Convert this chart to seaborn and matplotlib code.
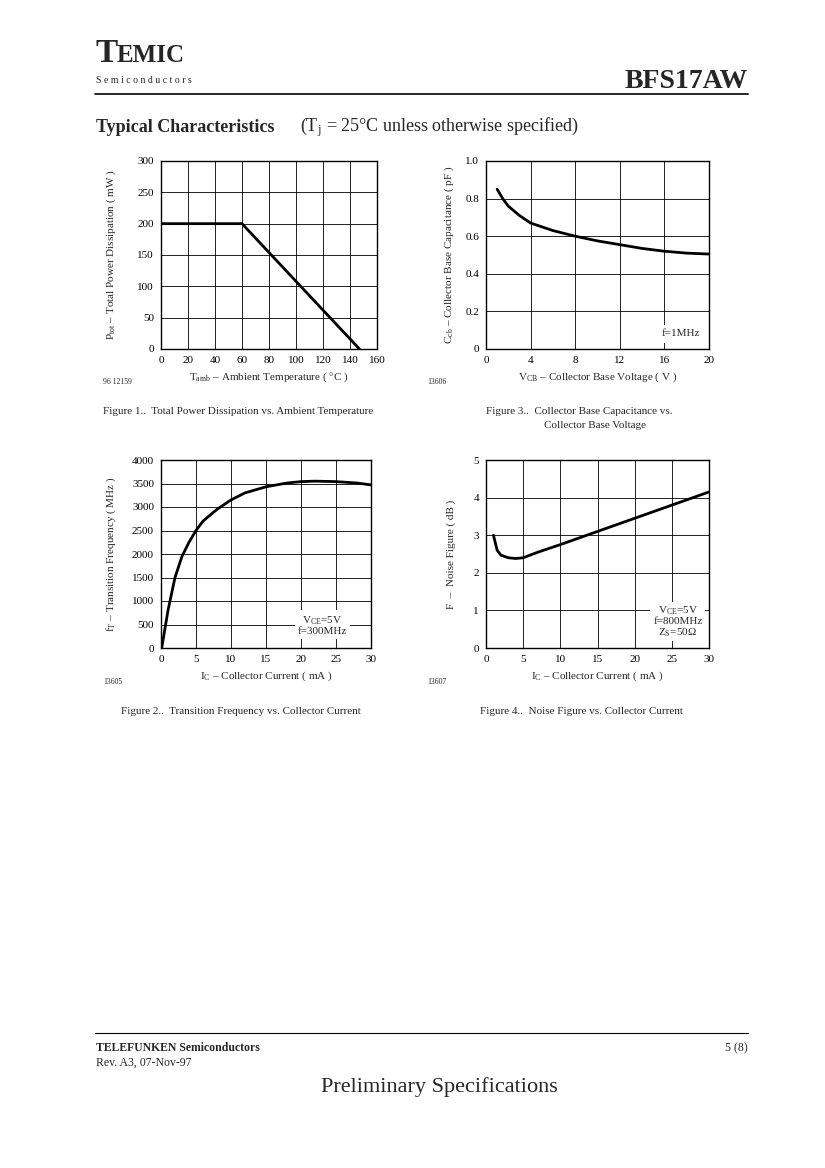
import matplotlib
matplotlib.use("Agg")
import matplotlib.pyplot as plt
import seaborn as sns
import numpy as np

sns.set_theme(style="white")
plt.rcParams['font.family'] = ['Liberation Serif', 'DejaVu Serif']
plt.rcParams['mathtext.fontset'] = 'stix'

# Figure 1
t_amb = [0, 60, 147]
p_tot = [200, 200, 0]
# Figure 3
v_cb = [1, 1.5, 2, 3, 4, 6, 8, 10, 12, 14, 16, 18, 20]
c_cb = [0.85, 0.80, 0.76, 0.71, 0.67, 0.63, 0.60, 0.575, 0.555, 0.535, 0.52, 0.51, 0.505]
# Figure 2
ic_ft = [0.1, 1, 2, 3, 4, 5, 6, 8, 10, 12, 15, 18, 20, 22, 25, 28, 30]
f_t = [0, 800, 1500, 1950, 2250, 2500, 2700, 2950, 3150, 3300, 3430, 3510, 3540, 3550, 3540, 3510, 3470]
# Figure 4
ic_nf = [1, 1.5, 2, 3, 4, 5, 7, 10, 15, 20, 25, 30]
nf = [3.0, 2.6, 2.47, 2.4, 2.38, 2.4, 2.55, 2.75, 3.1, 3.45, 3.8, 4.15]

W, H = 825, 1168
fig = plt.figure(figsize=(8.25, 11.68), dpi=100)

def ax_px(x0, y0, x1, y1):
    return fig.add_axes([x0 / W, 1 - y1 / H, (x1 - x0) / W, (y1 - y0) / H])

def T(x, y, s, **kw):
    fig.text(x / W, 1 - y / H, s, **kw)

def style(ax, xlim, ylim, xt, yt):
    ax.set_xlim(*xlim); ax.set_ylim(*ylim)
    ax.set_xticks(xt); ax.set_yticks(yt)
    ax.grid(True, color='black', lw=0.6)
    for s in ax.spines.values():
        s.set_color('black'); s.set_linewidth(1.0)
    ax.tick_params(axis='both', labelsize=8, length=0, pad=5, colors='black')
    ax.set_axisbelow(True)

# Header
T(95, 62, "T", fontsize=24, fontweight='bold', va='baseline')
T(117, 62, "EMIC", fontsize=18, fontweight='bold', va='baseline')
T(96, 83, "S e m i c o n d u c t o r s", fontsize=7, va='baseline')
T(748, 88, "BFS17AW", fontsize=20, fontweight='bold', ha='right', va='baseline')
fig.add_artist(plt.Line2D([95 / W, 748 / W], [1 - 94 / H] * 2, color='black', lw=1.2))
T(96, 132, "Typical Characteristics", fontsize=13, fontweight='bold', va='baseline')
T(300, 132, r"(T$_\mathregular{j}$ = 25°C unless otherwise specified)", fontsize=13, va='baseline')

# Figure 1
ax = ax_px(161, 161, 377, 349)
sns.lineplot(x=t_amb, y=p_tot, ax=ax, color='black', lw=2)
style(ax, (0, 160), (0, 300), range(0, 161, 20), range(0, 301, 50))
ax.set_ylabel(r"P$_\mathregular{tot}$ – Total Power Dissipation ( mW )", fontsize=8)
ax.yaxis.set_label_coords(-0.2, 0.5)
ax.set_xlabel(r"T$_\mathregular{amb}$ – Ambient Temperature ( °C )", fontsize=8, labelpad=4)
T(103, 384, "96 12159", fontsize=5.5)
T(103, 414, "Figure 1..  Total Power Dissipation vs. Ambient Temperature", fontsize=8)

# Figure 3
ax = ax_px(486, 161, 709, 349)
sns.lineplot(x=v_cb, y=c_cb, ax=ax, color='black', lw=2)
style(ax, (0, 20), (0, 1.0), range(0, 21, 4), [0, 0.2, 0.4, 0.6, 0.8, 1.0])
ax.set_yticklabels(["0", "0.2", "0.4", "0.6", "0.8", "1.0"])
ax.text(0.96, 0.08, "f=1MHz", transform=ax.transAxes, ha='right', va='center', fontsize=8,
        bbox=dict(facecolor='white', edgecolor='none', pad=3))
ax.set_ylabel(r"C$_\mathregular{cb}$ – Collector Base Capacitance ( pF )", fontsize=8)
ax.yaxis.set_label_coords(-0.135, 0.5)
ax.set_xlabel(r"V$_\mathregular{CB}$ – Collector Base Voltage ( V )", fontsize=8, labelpad=4)
T(427, 384, "13606", fontsize=5.5)
T(486, 414, "Figure 3..  Collector Base Capacitance vs.", fontsize=8)
T(544, 428, "Collector Base Voltage", fontsize=8)

# Figure 2
ax = ax_px(161, 460, 371, 648)
sns.lineplot(x=ic_ft, y=f_t, ax=ax, color='black', lw=2)
style(ax, (0, 30), (0, 4000), range(0, 31, 5), range(0, 4001, 500))
ax.text(0.77, 0.12, "V$_\\mathregular{CE}$=5V\nf=300MHz", transform=ax.transAxes, ha='center',
        va='center', fontsize=8, linespacing=1.0, bbox=dict(facecolor='white', edgecolor='none', pad=2))
ax.set_ylabel(r"f$_\mathregular{T}$ – Transition Frequency ( MHz )", fontsize=8)
ax.yaxis.set_label_coords(-0.205, 0.5)
ax.set_xlabel(r"I$_\mathregular{C}$ – Collector Current ( mA )", fontsize=8, labelpad=4)
T(103, 684, "13605", fontsize=5.5)
T(121, 714, "Figure 2..  Transition Frequency vs. Collector Current", fontsize=8)

# Figure 4
ax = ax_px(486, 460, 709, 648)
sns.lineplot(x=ic_nf, y=nf, ax=ax, color='black', lw=2)
style(ax, (0, 30), (0, 5), range(0, 31, 5), range(0, 6, 1))
ax.text(0.86, 0.14, "V$_\\mathregular{CE}$=5V\nf=800MHz\nZ$_\\mathregular{S}$=50Ω", transform=ax.transAxes,
        ha='center', va='center', fontsize=8, linespacing=1.0,
        bbox=dict(facecolor='white', edgecolor='none', pad=2))
ax.set_ylabel("F  –  Noise Figure ( dB )", fontsize=8)
ax.yaxis.set_label_coords(-0.135, 0.5)
ax.set_xlabel(r"I$_\mathregular{C}$ – Collector Current ( mA )", fontsize=8, labelpad=4)
T(427, 684, "13607", fontsize=5.5)
T(480, 714, "Figure 4..  Noise Figure vs. Collector Current", fontsize=8)

# Footer
fig.add_artist(plt.Line2D([95 / W, 748 / W], [1 - 1033 / H] * 2, color='black', lw=0.8))
T(96, 1051, "TELEFUNKEN Semiconductors", fontsize=8.5, fontweight='bold')
T(96, 1066, "Rev. A3, 07-Nov-97", fontsize=8.5)
T(748, 1051, "5 (8)", fontsize=8.5, ha='right')
T(439, 1092, "Preliminary Specifications", fontsize=16, ha='center')

fig.savefig("out.png", dpi=100)
